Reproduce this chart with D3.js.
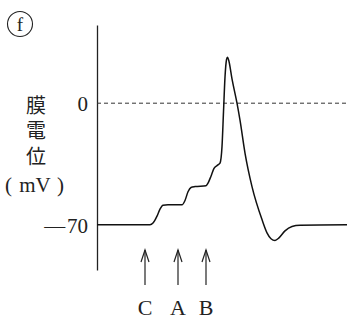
<!DOCTYPE html>
<html>
<head>
<meta charset="utf-8">
<script src="https://cdn.jsdelivr.net/npm/d3@7"></script>
<style>
  body { margin: 0; background: #fff; }
  svg { display: block; }
  .lat { font-family: "Liberation Serif", "DejaVu Serif", serif; fill: #222; }
  .cjk { font-family: "Noto Sans CJK JP", sans-serif; fill: #222; }
</style>
</head>
<body>
<svg id="chart" width="347" height="323"></svg>
<script>
// time (arbitrary units) and membrane potential (mV)
var times = [0, 53, 56, 60, 63, 66, 71, 85, 88, 91, 94, 98, 109, 111, 114, 117, 121, 123,
	125, 126.5, 128, 129.5, 130.5, 132, 135, 140, 143, 148, 155, 165, 170, 174, 178, 182, 188, 195, 203, 250];
var potentials = [-70, -70, -69, -65, -61, -58.7, -58.5, -58.5, -56, -51, -48.5, -48, -47.5, -46, -42, -37.5, -35.5, -34.5,
	-25, -5, 15, 25, 26.5, 24, 14, 0, -9.8, -28.7, -48, -67, -74.6, -78, -79, -77.5, -73.5, -71, -70.3, -70];

var yTicks = [0, -70];
var stimTimes = [48, 81, 109];
var stimLabels = ["C", "A", "B"];

var svg = d3.select("#chart");

var x = d3.scaleLinear().domain([0, 250]).range([97, 347]);
var y = d3.scaleLinear().domain([-96, 45]).range([270, 25]);

// y axis
var yAxis = d3.axisLeft(y)
	.tickValues(yTicks)
	.tickSize(0)
	.tickPadding(9)
	.tickFormat(function(d) { return d === 0 ? "0" : "\u2014\u200a" + Math.abs(d); });

var g = svg.append("g")
	.attr("transform", "translate(" + x(0) + ",0)")
	.call(yAxis);
g.select(".domain").attr("stroke", "#222").attr("stroke-width", 1.3);
g.selectAll("text")
	.attr("class", "lat")
	.style("font-size", "21px")
	.attr("dy", "0.35em");

// dashed zero line
svg.append("line")
	.attr("x1", x(0)).attr("x2", x(250))
	.attr("y1", y(0)).attr("y2", y(0))
	.attr("stroke", "#333")
	.attr("stroke-width", 1)
	.attr("stroke-dasharray", "4,3");

// membrane potential trace
var data = times.map(function(t, i) { return [t, potentials[i]]; });
var line = d3.line()
	.x(function(d) { return x(d[0]); })
	.y(function(d) { return y(d[1]); })
	.curve(d3.curveMonotoneX);

svg.append("path")
	.datum(data)
	.attr("d", line)
	.attr("fill", "none")
	.attr("stroke", "#111")
	.attr("stroke-width", 1.5);

// stimulus arrows
var arr = svg.selectAll(".stim")
	.data(stimTimes)
	.enter().append("g")
	.attr("class", "stim")
	.attr("transform", function(d) { return "translate(" + x(d) + ",0)"; });

arr.append("line")
	.attr("x1", 0).attr("x2", 0)
	.attr("y1", 250).attr("y2", 285)
	.attr("stroke", "#222").attr("stroke-width", 1.2);
arr.append("path")
	.attr("d", "M-4,262 L0,250 L4,262")
	.attr("fill", "none")
	.attr("stroke", "#222").attr("stroke-width", 1.2);
arr.append("text")
	.attr("class", "lat")
	.attr("y", 315)
	.attr("text-anchor", "middle")
	.style("font-size", "22px")
	.text(function(d, i) { return stimLabels[i]; });

// y label, written vertically
svg.append("text")
	.attr("class", "cjk")
	.attr("x", 36)
	.attr("y", 95)
	.attr("writing-mode", "tb")
	.style("font-size", "20px")
	.style("letter-spacing", "5.5px")
	.text("膜電位");

var unit = svg.append("g").attr("class", "lat").style("font-size", "21px");
unit.append("text").attr("class", "lat").attr("x", 5).attr("y", 192).text("(");
unit.append("text").attr("class", "lat").attr("x", 35).attr("y", 192)
	.attr("text-anchor", "middle").text("mV");
unit.append("text").attr("class", "lat").attr("x", 64).attr("y", 192)
	.attr("text-anchor", "end").text(")");

// panel mark
svg.append("circle")
	.attr("cx", 20).attr("cy", 24).attr("r", 12.5)
	.attr("fill", "none").attr("stroke", "#222").attr("stroke-width", 1.1);
svg.append("text")
	.attr("class", "lat")
	.attr("x", 20).attr("y", 31)
	.attr("text-anchor", "middle")
	.style("font-size", "19px")
	.text("f");
</script>
</body>
</html>
